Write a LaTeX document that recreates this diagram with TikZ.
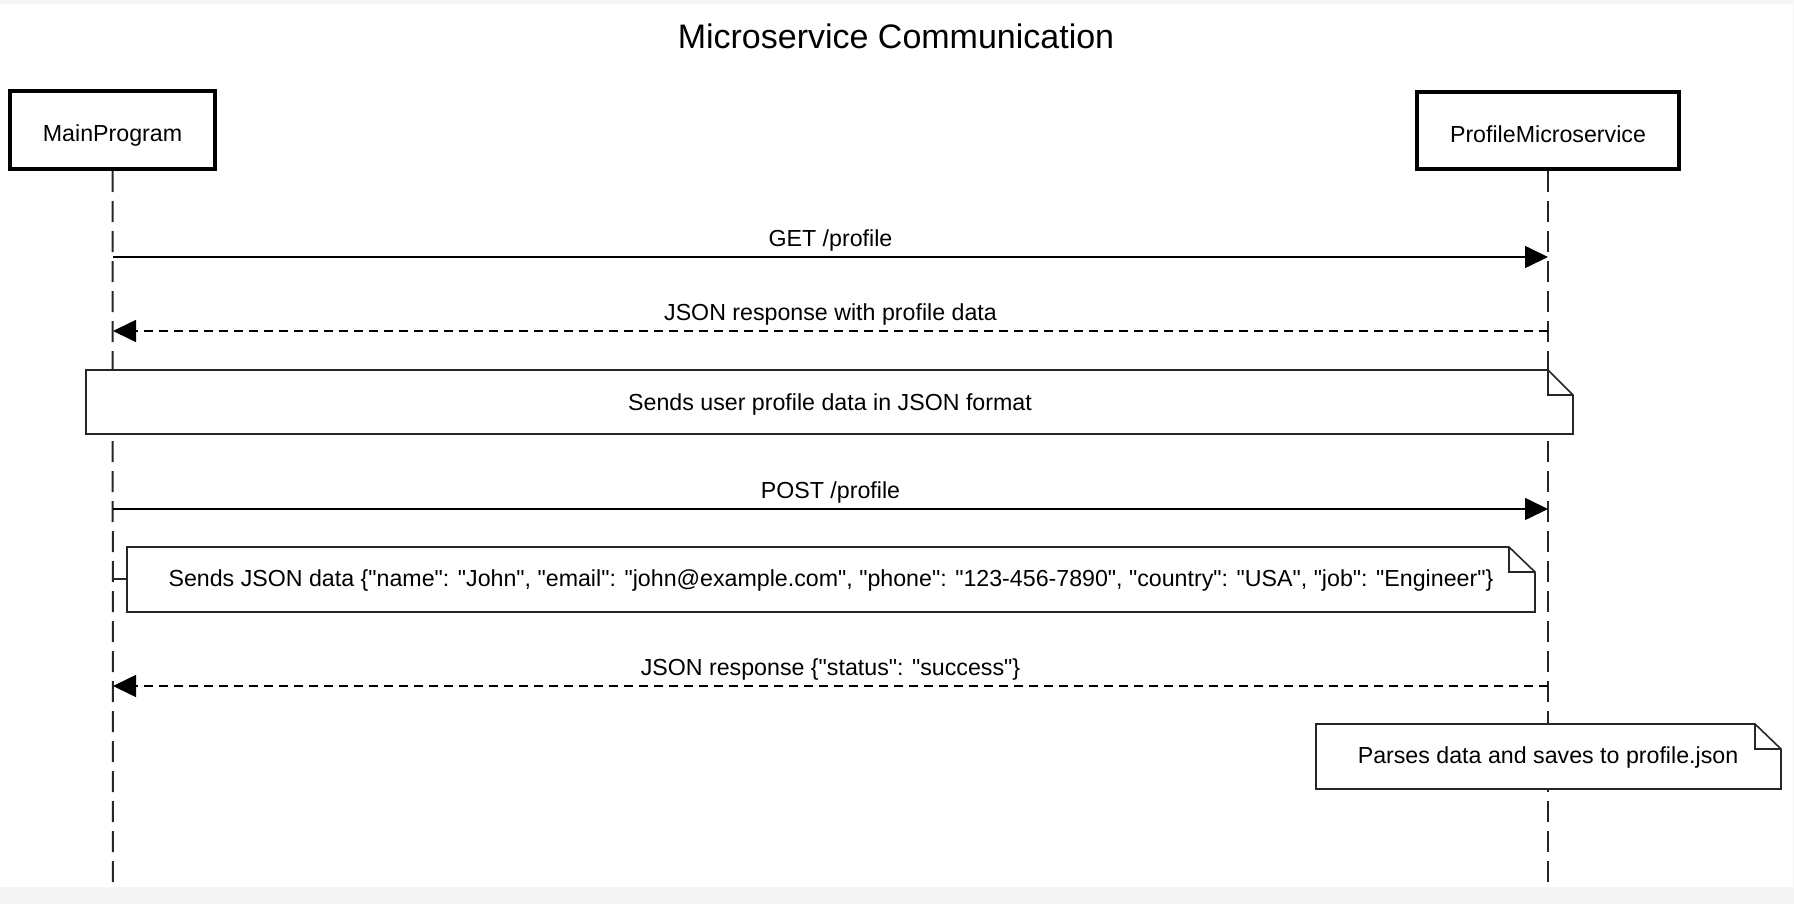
\documentclass[tikz,border=0pt]{standalone}
\usepackage{fontspec}
\setmainfont{Liberation Sans}[Ligatures=TeXOff]
\usetikzlibrary{arrows.meta}
\tikzset{
  participant/.style={draw=black, line width=2pt, fill=white, inner sep=0pt, text height=1.15em, text depth=0pt, font=\fontsize{11.6pt}{14pt}\selectfont},
  lifeline/.style={draw=black!85, line width=1pt, dash pattern=on 10.5pt off 4.5pt},
  msg/.style={draw=black, line width=0.8pt, -{Triangle[length=11.5pt,width=11pt]}},
  reply/.style={msg, dash pattern=on 4.5pt off 3pt},
  msglabel/.style={anchor=base, inner sep=0pt, font=\fontsize{11.6pt}{14pt}\selectfont},
  notebox/.style={draw=black!85, line width=0.8pt, fill=white},
  notetext/.style={inner sep=0pt, font=\fontsize{11.6pt}{14pt}\selectfont},
  titlestyle/.style={inner sep=0pt, font=\fontsize{17pt}{20pt}\selectfont}
}
\begin{document}
\begin{tikzpicture}[x=0.5pt,y=-0.5pt]
\useasboundingbox (0,0) rectangle (1794,904);
\fill[black!4] (0,0) rectangle (1794,904);
\fill[white] (0,4) rectangle (1793,887);

\node[titlestyle] (title) at (896,36) {Microservice Communication};

\node[participant, minimum width=102.5pt, minimum height=39pt] (mp) at (112.5,130) {MainProgram};
\node[participant, minimum width=131pt, minimum height=38.5pt] (pm) at (1548,130.5) {ProfileMicroservice};

\coordinate (mpend) at (113,887);
\coordinate (pmend) at (1548,887);
\draw[lifeline] (mp.south) -- (mpend);
\draw[lifeline] (pm.south) -- (pmend);

% messages
\coordinate (a1) at (113,257); \coordinate (b1) at (1548,257);
\draw[msg] (a1) -- (b1);
\node[msglabel] (l1) at (830.5,246) {GET /profile};

\coordinate (a2) at (113,331); \coordinate (b2) at (1548,331);
\draw[reply] (b2) -- (a2);
\node[msglabel] (l2) at (830.5,320) {JSON response with profile data};

% note 1
\path[notebox] (86,370) -- (1548,370) -- (1573,395) -- (1573,434) -- (86,434) -- cycle;
\draw[notebox, fill=none] (1548,370) -- (1548,395) -- (1573,395);
\node[notetext] (n1) at (830,404) {Sends user profile data in JSON format};

\coordinate (a3) at (113,509); \coordinate (b3) at (1548,509);
\draw[msg] (a3) -- (b3);
\node[msglabel] (l3) at (830.5,498) {POST /profile};

% note 2
\coordinate (t2) at (113,579);
\coordinate (t2b) at (127,579);
\path[notebox] (127,547) -- (1509,547) -- (1535,572) -- (1535,612) -- (127,612) -- cycle;
\draw[notebox, fill=none] (1509,547) -- (1509,572) -- (1535,572);
\draw[notebox] (t2) -- (t2b);
\node[notetext] (n2) at (831,580) {Sends JSON data \{"name": "John", "email": "john@example.com", "phone": "123-456-7890", "country": "USA", "job": "Engineer"\}};

\coordinate (a4) at (113,686); \coordinate (b4) at (1548,686);
\draw[reply] (b4) -- (a4);
\node[msglabel] (l4) at (830.5,675) {JSON response \{"status": "success"\}};

% note 3
\path[notebox] (1316,724) -- (1755,724) -- (1781,749) -- (1781,789) -- (1316,789) -- cycle;
\draw[notebox, fill=none] (1755,724) -- (1755,749) -- (1781,749);
\node[notetext] (n3) at (1548,757) {Parses data and saves to profile.json};
\end{tikzpicture}
\end{document}
